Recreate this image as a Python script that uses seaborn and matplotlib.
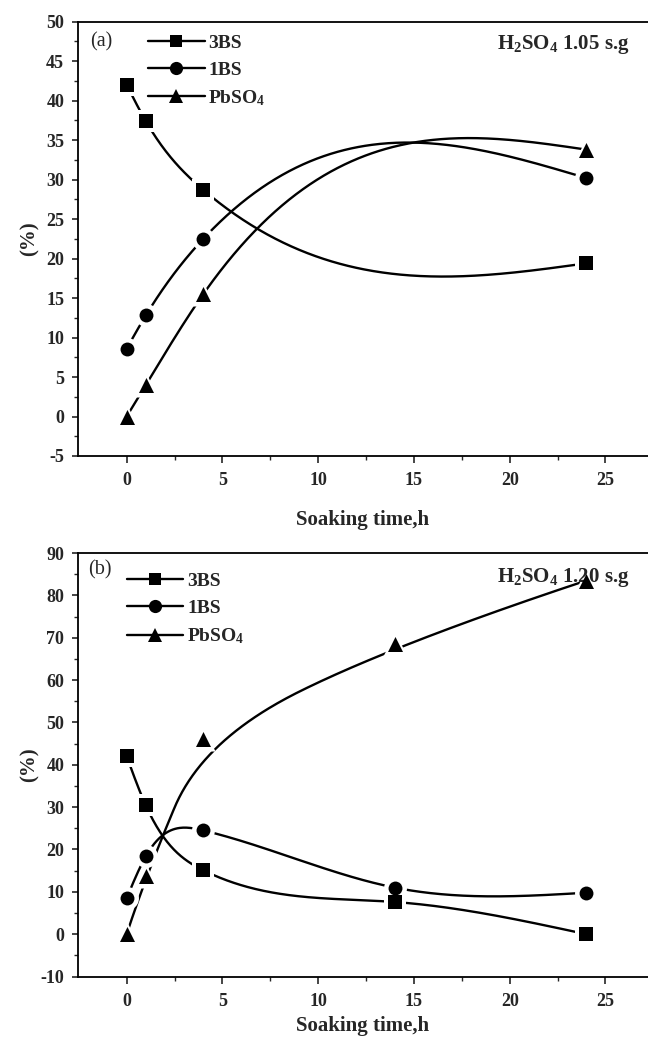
import numpy as np
import pandas as pd
import matplotlib
matplotlib.use("Agg")
import matplotlib.pyplot as plt
from matplotlib.lines import Line2D
from matplotlib.ticker import MultipleLocator, FixedLocator
import seaborn as sns

# ---- data: phase content (%) vs soaking time (h) ----
time_a = [0, 1, 4, 24]
bs3_a = [42.0, 37.4, 28.7, 19.4]
bs1_a = [8.6, 12.8, 22.5, 30.2]
pbso4_a = [0.0, 4.0, 15.5, 33.8]

time_b = [0, 1, 4, 14, 24]
bs3_b = [42.0, 30.4, 15.1, 7.6, 0.0]
bs1_b = [8.5, 18.4, 24.5, 11.0, 9.8]
pbso4_b = [0.0, 13.8, 46.0, 68.5, 83.5]

series_names = ["3BS", "1BS", "PbSO4"]
legend_labels = ["3BS", "1BS", "PbSO$_4$"]
panel_tags = ["(a)", "(b)"]
acid_labels = ["H$_2$SO$_4$ 1.05 s.g", "H$_2$SO$_4$ 1.20 s.g"]
x_label = "Soaking time,h"
y_label = "(%)"

markers = {"3BS": "s", "1BS": "o", "PbSO4": "^"}
marker_pt = {"3BS": 9.4, "1BS": 10.0, "PbSO4": 10.8}


def natural_spline(x, y, xs):
    x = np.asarray(x, float)
    y = np.asarray(y, float)
    n = len(x)
    h = np.diff(x)
    A = np.zeros((n, n))
    r = np.zeros(n)
    A[0, 0] = A[-1, -1] = 1.0
    for i in range(1, n - 1):
        A[i, i - 1] = h[i - 1]
        A[i, i] = 2 * (h[i - 1] + h[i])
        A[i, i + 1] = h[i]
        r[i] = 6 * ((y[i + 1] - y[i]) / h[i] - (y[i] - y[i - 1]) / h[i - 1])
    M = np.linalg.solve(A, r)
    idx = np.clip(np.searchsorted(x, xs) - 1, 0, n - 2)
    x0, x1 = x[idx], x[idx + 1]
    hh = x1 - x0
    a = (x1 - xs) / hh
    b = (xs - x0) / hh
    return a * y[idx] + b * y[idx + 1] + ((a ** 3 - a) * M[idx] + (b ** 3 - b) * M[idx + 1]) * hh ** 2 / 6


def quad_bspline(x, y, n=120):
    # clamped quadratic B-spline using the points as control polygon
    P = np.column_stack([x, y]).astype(float)
    k = len(P)
    segs = []
    u = np.linspace(0, 1, n)[:, None]
    for i in range(1, k - 1):
        start = P[0] if i == 1 else (P[i - 1] + P[i]) / 2
        end = P[-1] if i == k - 2 else (P[i] + P[i + 1]) / 2
        segs.append((1 - u) ** 2 * start + 2 * u * (1 - u) * P[i] + u ** 2 * end)
    out = np.vstack(segs)
    return out[:, 0], out[:, 1]


def build_frames(t, values, smooth):
    pts, curves = [], []
    for name in series_names:
        v = values[name]
        pts.append(pd.DataFrame({"t": t, "v": v, "series": name}))
        if smooth[name] == "bspline":
            cx, cy = quad_bspline(t, v)
        else:
            cx = np.linspace(t[0], t[-1], 400)
            cy = natural_spline(t, v, cx)
        curves.append(pd.DataFrame({"t": cx, "v": cy, "series": name}))
    return pd.concat(pts, ignore_index=True), pd.concat(curves, ignore_index=True)


pts_a, curves_a = build_frames(
    time_a, {"3BS": bs3_a, "1BS": bs1_a, "PbSO4": pbso4_a},
    {"3BS": "spline", "1BS": "spline", "PbSO4": "spline"})
pts_b, curves_b = build_frames(
    time_b, {"3BS": bs3_b, "1BS": bs1_b, "PbSO4": pbso4_b},
    {"3BS": "spline", "1BS": "spline", "PbSO4": "bspline"})

sns.set_theme(style="ticks")
plt.rcParams["font.family"] = ["Liberation Serif", "DejaVu Serif"]
plt.rcParams["mathtext.fontset"] = "custom"
plt.rcParams["mathtext.rm"] = "Liberation Serif:bold"
plt.rcParams["mathtext.it"] = "Liberation Serif:bold"
plt.rcParams["mathtext.bf"] = "Liberation Serif:bold"
plt.rcParams["axes.linewidth"] = 1.3
plt.rcParams["axes.unicode_minus"] = False

fig = plt.figure(figsize=(6.48, 10.38), dpi=100)
ax_a = fig.add_axes([0.1204, 0.5607, 0.8796, 0.4184])
ax_b = fig.add_axes([0.1204, 0.0592, 0.8796, 0.4080])

panels = [
    (ax_a, pts_a, curves_a, (-5, 50), 5, 2.5, 0.123, 0.971, 0.948),
    (ax_b, pts_b, curves_b, (-10, 90), 10, 5, 0.086, 0.954, 0.943),
]

for k, (ax, pts, curves, ylim, major, minor, leg_x, leg_y, acid_y) in enumerate(panels):
    sns.lineplot(data=curves, x="t", y="v", units="series", estimator=None,
                 sort=False, color="black", linewidth=1.7, ax=ax, legend=False, zorder=2)
    for name in series_names:
        sub = pts[pts["series"] == name]
        sns.scatterplot(data=sub, x="t", y="v", marker=markers[name], color="white",
                        s=(marker_pt[name] + 6.5) ** 2, linewidth=0, ax=ax,
                        legend=False, zorder=3)
        sns.scatterplot(data=sub, x="t", y="v", marker=markers[name], color="black",
                        s=marker_pt[name] ** 2, linewidth=0, ax=ax,
                        legend=False, zorder=4)

    ax.set_xlim(-2.54, 27.22)
    ax.set_ylim(*ylim)
    ax.xaxis.set_major_locator(FixedLocator([0, 5, 10, 15, 20, 25]))
    ax.xaxis.set_minor_locator(FixedLocator([2.5, 7.5, 12.5, 17.5, 22.5]))
    ax.yaxis.set_major_locator(MultipleLocator(major))
    ax.yaxis.set_minor_locator(MultipleLocator(minor))
    ax.tick_params(axis="x", which="major", direction="out", length=5, width=1.2, pad=6.5,
                   labelsize=13, top=False)
    ax.tick_params(axis="x", which="minor", direction="out", length=3, width=1.0, top=False)
    ax.tick_params(axis="y", which="major", direction="out", length=4.5, width=1.2, pad=5.5,
                   labelsize=13, right=False)
    ax.tick_params(axis="y", which="minor", direction="out", length=3, width=1.0, right=False)
    for lab in ax.get_xticklabels() + ax.get_yticklabels():
        lab.set_fontweight("bold")

    for side in ["left", "bottom", "top"]:
        ax.spines[side].set_visible(True)
        ax.spines[side].set_color("black")
        ax.spines[side].set_linewidth(1.3)
    ax.spines["right"].set_visible(False)

    ax.set_xlabel(x_label, fontsize=15, fontweight="bold")
    ax.set_ylabel(y_label, fontsize=15, fontweight="bold")
    ax.yaxis.set_label_coords(-0.068, 0.5)
    ax.xaxis.set_label_coords(0.5, -0.125 if k == 0 else -0.092)

    ax.text(0.021 if k == 0 else 0.0175, 0.953 if k == 0 else 0.960, panel_tags[k],
            transform=ax.transAxes, fontsize=14.5, ha="left", va="center")
    ax.text(0.735, acid_y, acid_labels[k], transform=ax.transAxes,
            fontsize=15, fontweight="bold", ha="left", va="center")

    handles = [Line2D([0], [0], color="black", linewidth=1.7, marker=markers[n],
                      markersize=marker_pt[n] * 0.95, markeredgewidth=0)
               for n in series_names]
    ax.legend(handles, legend_labels, loc="upper left", bbox_to_anchor=(leg_x, leg_y),
              frameon=False, borderpad=0, borderaxespad=0, handlelength=2.9,
              handletextpad=0.2, labelspacing=0.48,
              prop={"family": "Liberation Serif", "weight": "bold", "size": 14})

fig.savefig("out.png", dpi=100)
